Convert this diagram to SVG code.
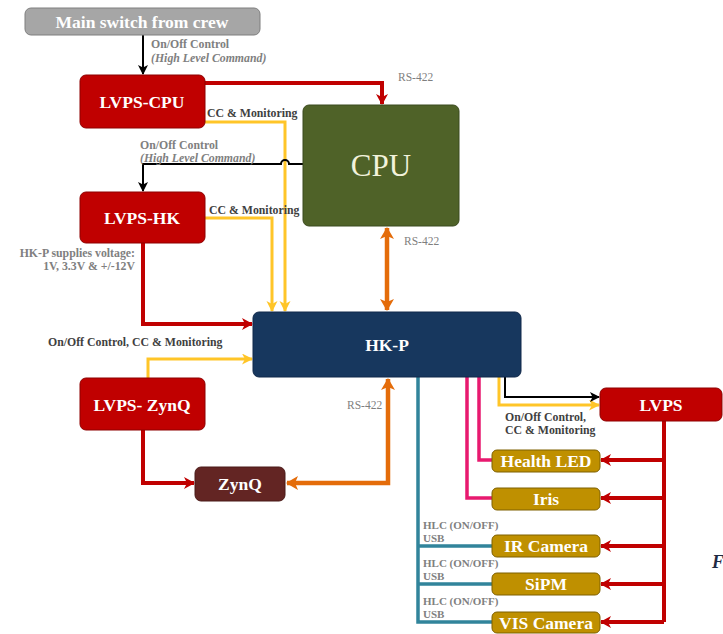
<svg xmlns="http://www.w3.org/2000/svg" width="723" height="634" viewBox="0 0 723 634">
  <style>
    text { font-family: "Liberation Serif", "DejaVu Serif", serif; }
    .box-title { fill: #ffffff; font-weight: bold; font-size: 17.5px; text-anchor: middle; }
    .lbl { font-size: 11.8px; fill: #808080; font-weight: bold; }
    .lbl-dark { font-size: 11.8px; fill: #3f3f3f; font-weight: bold; }
    .hlc { font-size: 11px; fill: #808080; font-weight: bold; }
    .rs { font-size: 11.5px; fill: #7f7f7f; }
    .it { font-style: italic; }
    .red-box { fill: #c00000; stroke: #8e0000; stroke-width: 1; }
    .gold-box { fill: #bf9000; stroke: #7f6000; stroke-width: 1; }
    .w-red { fill: none; stroke: #c00000; stroke-width: 4; }
    .w-yel { fill: none; stroke: #ffc528; stroke-width: 3; }
    .w-org { fill: none; stroke: #e46c0a; stroke-width: 4.5; }
    .w-blk { fill: none; stroke: #000000; stroke-width: 2; }
    .w-teal { fill: none; stroke: #31849b; stroke-width: 3.5; }
    .w-pink { fill: none; stroke: #e8196f; stroke-width: 3.5; }
  </style>
  <defs>
    <marker id="ah-red" markerUnits="userSpaceOnUse" markerWidth="14" markerHeight="14" refX="10" refY="6" orient="auto">
      <path d="M0,0 L11,6 L0,12 L3,6 Z" fill="#c00000"/>
    </marker>
    <marker id="ah-yel" markerUnits="userSpaceOnUse" markerWidth="14" markerHeight="14" refX="10" refY="5.5" orient="auto">
      <path d="M0,0 L11,5.5 L0,11 L3,5.5 Z" fill="#ffc528"/>
    </marker>
    <marker id="ah-org" markerUnits="userSpaceOnUse" markerWidth="16" markerHeight="16" refX="11" refY="7" orient="auto-start-reverse">
      <path d="M0,0 L12,7 L0,14 L3,7 Z" fill="#e46c0a"/>
    </marker>
    <marker id="ah-blk" markerUnits="userSpaceOnUse" markerWidth="12" markerHeight="12" refX="9" refY="5" orient="auto">
      <path d="M0,0 L10,5 L0,10 L2.5,5 Z" fill="#000000"/>
    </marker>
  </defs>

  <rect width="723" height="634" fill="#ffffff"/>

  <!-- connectors -->
  <g id="connectors">
    <!-- crew switch to LVPS-CPU -->
    <path class="w-blk" d="M143,35 V74" marker-end="url(#ah-blk)"/>
    <!-- LVPS-CPU power to CPU -->
    <path class="w-red" d="M205,83 H382 V104" marker-end="url(#ah-red)"/>
    <!-- CC & Monitoring LVPS-CPU to HK-P -->
    <path class="w-yel" d="M205,122 H285 V311" marker-end="url(#ah-yel)"/>
    <!-- CPU command to LVPS-HK, hopping over the yellow line -->
    <path class="w-blk" d="M303,164 H289 A4,4 0 0 0 281,164 H143 V191" marker-end="url(#ah-blk)"/>
    <!-- CC & Monitoring LVPS-HK to HK-P -->
    <path class="w-yel" d="M205,218 H272 V311" marker-end="url(#ah-yel)"/>
    <!-- LVPS-HK supply to HK-P -->
    <path class="w-red" d="M143,243 V324 H252" marker-end="url(#ah-red)"/>
    <!-- CPU <-> HK-P RS-422 -->
    <path class="w-org" d="M387,228 V310" marker-start="url(#ah-org)" marker-end="url(#ah-org)"/>
    <!-- LVPS-ZynQ control to HK-P -->
    <path class="w-yel" d="M148,378 V359 H252" marker-end="url(#ah-yel)"/>
    <!-- LVPS-ZynQ supply to ZynQ -->
    <path class="w-red" d="M143,430 V483 H194" marker-end="url(#ah-red)"/>
    <!-- ZynQ <-> HK-P RS-422 -->
    <path class="w-org" d="M287,483 H388 V379" marker-start="url(#ah-org)" marker-end="url(#ah-org)"/>
    <!-- HK-P HLC / USB bus -->
    <path class="w-teal" d="M418,377 V622 H492 M418,546 H492 M418,584 H492"/>
    <!-- HK-P to Iris and Health LED -->
    <path class="w-pink" d="M467,377 V498 H492"/>
    <path class="w-pink" d="M479,377 V460 H492"/>
    <!-- HK-P to LVPS -->
    <path class="w-yel" d="M499,377 V405 H599" marker-end="url(#ah-yel)"/>
    <path class="w-blk" d="M505,377 V397 H599" marker-end="url(#ah-blk)"/>
    <!-- LVPS supply rail to devices -->
    <path class="w-red" d="M664,421 V622"/>
    <path class="w-red" d="M664,460 H601" marker-end="url(#ah-red)"/>
    <path class="w-red" d="M664,498 H601" marker-end="url(#ah-red)"/>
    <path class="w-red" d="M664,546 H601" marker-end="url(#ah-red)"/>
    <path class="w-red" d="M664,584 H601" marker-end="url(#ah-red)"/>
    <path class="w-red" d="M664,622 H601" marker-end="url(#ah-red)"/>
  </g>

  <!-- connector labels -->
  <g id="labels">
    <text class="lbl" x="151" y="48">On/Off Control</text>
    <text class="lbl it" x="151" y="62">(High Level Command)</text>
    <text class="rs" x="398" y="81">RS-422</text>
    <text class="lbl-dark" x="207" y="117">CC &amp; Monitoring</text>
    <text class="lbl" x="140" y="149">On/Off Control</text>
    <text class="lbl it" x="140" y="162">(High Level Command)</text>
    <text class="lbl-dark" x="209" y="214">CC &amp; Monitoring</text>
    <text class="rs" x="404" y="245">RS-422</text>
    <text class="lbl" x="135" y="257" text-anchor="end">HK-P supplies voltage:</text>
    <text class="lbl" x="135" y="270" text-anchor="end">1V, 3.3V &amp; +/-12V</text>
    <text class="lbl-dark" x="48" y="346" fill="#595959">On/Off Control, CC &amp; Monitoring</text>
    <text class="rs" x="347" y="409">RS-422</text>
    <text class="lbl-dark" x="505" y="421" fill="#595959">On/Off Control,</text>
    <text class="lbl-dark" x="505" y="434" fill="#595959">CC &amp; Monitoring</text>
    <text class="hlc" x="423" y="529">HLC (ON/OFF)</text>
    <text class="hlc" x="423" y="542">USB</text>
    <text class="hlc" x="423" y="567">HLC (ON/OFF)</text>
    <text class="hlc" x="423" y="580">USB</text>
    <text class="hlc" x="423" y="605">HLC (ON/OFF)</text>
    <text class="hlc" x="423" y="618">USB</text>
    <text x="712" y="568" font-size="18" font-style="italic" font-weight="bold" fill="#1f2a44">F</text>
  </g>

  <!-- nodes -->
  <g id="main-switch">
    <rect x="25" y="8" width="235" height="27" rx="6" fill="#a6a6a6" stroke="#7f7f7f"/>
    <text class="box-title" x="142" y="28" font-size="19">Main switch from crew</text>
  </g>
  <g id="lvps-cpu">
    <rect class="red-box" x="80" y="75" width="125" height="53" rx="6"/>
    <text class="box-title" x="142" y="108">LVPS-CPU</text>
  </g>
  <g id="cpu">
    <rect x="303" y="105" width="156" height="121" rx="6" fill="#4f6228" stroke="#3b4a1e"/>
    <text x="381" y="176" font-size="31" fill="#f2f2dc" text-anchor="middle">CPU</text>
  </g>
  <g id="lvps-hk">
    <rect class="red-box" x="80" y="192" width="125" height="51" rx="6"/>
    <text class="box-title" x="142" y="224">LVPS-HK</text>
  </g>
  <g id="hk-p">
    <rect x="253" y="312" width="268" height="65" rx="6" fill="#17375e" stroke="#10284a"/>
    <text class="box-title" x="387" y="351" font-size="18.5">HK-P</text>
  </g>
  <g id="lvps-zynq">
    <rect class="red-box" x="80" y="378" width="125" height="52" rx="6"/>
    <text class="box-title" x="142" y="411">LVPS- ZynQ</text>
  </g>
  <g id="zynq">
    <rect x="195" y="467" width="90" height="34" rx="6" fill="#632523" stroke="#4a1a18"/>
    <text class="box-title" x="240" y="490" font-size="18">ZynQ</text>
  </g>
  <g id="lvps">
    <rect class="red-box" x="600" y="388" width="122" height="33" rx="6"/>
    <text class="box-title" x="661" y="411" font-size="18">LVPS</text>
  </g>
  <g id="health-led">
    <rect class="gold-box" x="492" y="450" width="108" height="22" rx="5"/>
    <text class="box-title" x="546" y="467">Health LED</text>
  </g>
  <g id="iris">
    <rect class="gold-box" x="492" y="488" width="108" height="22" rx="5"/>
    <text class="box-title" x="546" y="505">Iris</text>
  </g>
  <g id="ir-camera">
    <rect class="gold-box" x="492" y="535" width="108" height="22" rx="5"/>
    <text class="box-title" x="546" y="552">IR Camera</text>
  </g>
  <g id="sipm">
    <rect class="gold-box" x="492" y="573" width="108" height="22" rx="5"/>
    <text class="box-title" x="546" y="590">SiPM</text>
  </g>
  <g id="vis-camera">
    <rect class="gold-box" x="492" y="612" width="108" height="21" rx="5"/>
    <text class="box-title" x="546" y="629">VIS Camera</text>
  </g>
</svg>
